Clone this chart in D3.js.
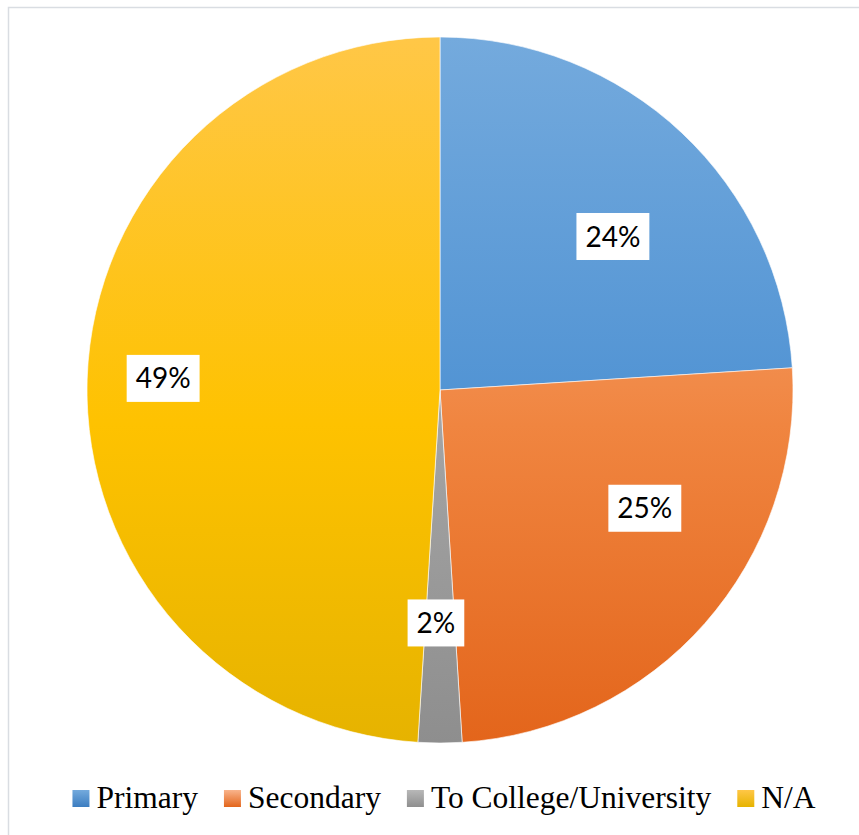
<!DOCTYPE html>
<html>
<head>
<meta charset="utf-8">
<script src="https://cdn.jsdelivr.net/npm/d3@7"></script>
<style>
  html, body { margin: 0; padding: 0; background: #fff; }
  svg { display: block; }
</style>
</head>
<body>
<script>
// Share of respondents by education level
const categories = ["Primary", "Secondary", "To College/University", "N/A"];
const values = [24, 25, 2, 49];
const valueLabels = ["24%", "25%", "2%", "49%"];

// Vertical gradient stops for each slice (top → bottom of the pie)
const gradients = [
  ["#74aadd", "#4f92d3", "#3c7dc0"],
  ["#f9b48c", "#f08540", "#e3651b"],
  ["#b8b8b8", "#a4a4a4", "#8e8e8e"],
  ["#ffc747", "#fec200", "#e6b300"]
];
// Label placement: angular nudge (degrees) and radius fraction
const labelNudge = [[5.2, 0.655], [-11.4, 0.67], [1, 0.66], [0.6, 0.785]];

const W = 859, H = 835;
const cx = 440, cy = 390, R = 353;

const svg = d3.select("body").append("svg")
  .attr("width", W).attr("height", H);

// chart frame
svg.append("rect")
  .attr("x", 8.5).attr("y", 7.5)
  .attr("width", W).attr("height", H)
  .attr("fill", "#fff")
  .attr("stroke", "#d9dde2").attr("stroke-width", 1.5);

const defs = svg.append("defs");
gradients.forEach((g, i) => {
  // user space of the slices is centred on the pie
  const lg = defs.append("linearGradient")
    .attr("id", "grad" + i)
    .attr("gradientUnits", "userSpaceOnUse")
    .attr("x1", 0).attr("x2", 0)
    .attr("y1", -R).attr("y2", R);
  lg.append("stop").attr("offset", "0%").attr("stop-color", g[0]);
  lg.append("stop").attr("offset", "55%").attr("stop-color", g[1]);
  lg.append("stop").attr("offset", "100%").attr("stop-color", g[2]);
});

const pie = d3.pie().sort(null).value(d => d)(values);
const arc = d3.arc().innerRadius(0).outerRadius(R);

const g = svg.append("g").attr("transform", `translate(${cx},${cy})`);

g.selectAll("path.slice")
  .data(pie)
  .join("path")
  .attr("class", "slice")
  .attr("d", arc)
  .attr("fill", (d, i) => `url(#grad${i})`)
  .attr("stroke", "rgba(255,255,255,0.6)")
  .attr("stroke-width", 1);

// data labels in white boxes
const lbl = g.selectAll("g.lbl")
  .data(pie)
  .join("g")
  .attr("class", "lbl")
  .attr("transform", (d, i) => {
    const a = (d.startAngle + d.endAngle) / 2 + labelNudge[i][0] * Math.PI / 180;
    const r = R * labelNudge[i][1];
    return `translate(${r * Math.sin(a)},${-r * Math.cos(a)})`;
  });

lbl.each(function(d, i) {
  const sel = d3.select(this);
  const t = sel.append("text")
    .attr("text-anchor", "middle")
    .attr("dy", "0.36em")
    .style("font-family", "Lato, 'Open Sans', sans-serif")
    .style("font-size", "28px")
    .attr("fill", "#000")
    .text(valueLabels[i]);
  const w = t.node().getComputedTextLength();
  const bw = w + 18, bh = 47;
  sel.insert("rect", "text")
    .attr("x", -bw / 2).attr("y", -bh / 2)
    .attr("width", bw).attr("height", bh)
    .attr("fill", "#fff");
});

// legend
gradients.forEach((gs, i) => {
  const lg = defs.append("linearGradient")
    .attr("id", "lgrad" + i)
    .attr("x1", 0).attr("x2", 0).attr("y1", 0).attr("y2", 1);
  lg.append("stop").attr("offset", "0%").attr("stop-color", gs[0]);
  lg.append("stop").attr("offset", "100%").attr("stop-color", gs[2]);
});

const legend = svg.append("g");
const items = legend.selectAll("g.item")
  .data(categories)
  .join("g")
  .attr("class", "item");

items.append("rect")
  .attr("width", 17).attr("height", 17)
  .attr("y", 790)
  .attr("fill", (d, i) => `url(#lgrad${i})`);

items.append("text")
  .attr("x", 24)
  .attr("y", 808)
  .style("font-family", "'Liberation Serif', 'Times New Roman', serif")
  .style("font-size", "31.5px")
  .attr("fill", "#000")
  .text(d => d);

let widths = [];
items.select("text").each(function() { widths.push(this.getComputedTextLength()); });
const gap = 26;
const total = widths.reduce((s, w) => s + 24 + w, 0) + gap * (widths.length - 1);
let x = 444 - total / 2;
items.attr("transform", (d, i) => {
  const tx = x;
  x += 24 + widths[i] + gap;
  return `translate(${tx},0)`;
});
</script>
</body>
</html>
